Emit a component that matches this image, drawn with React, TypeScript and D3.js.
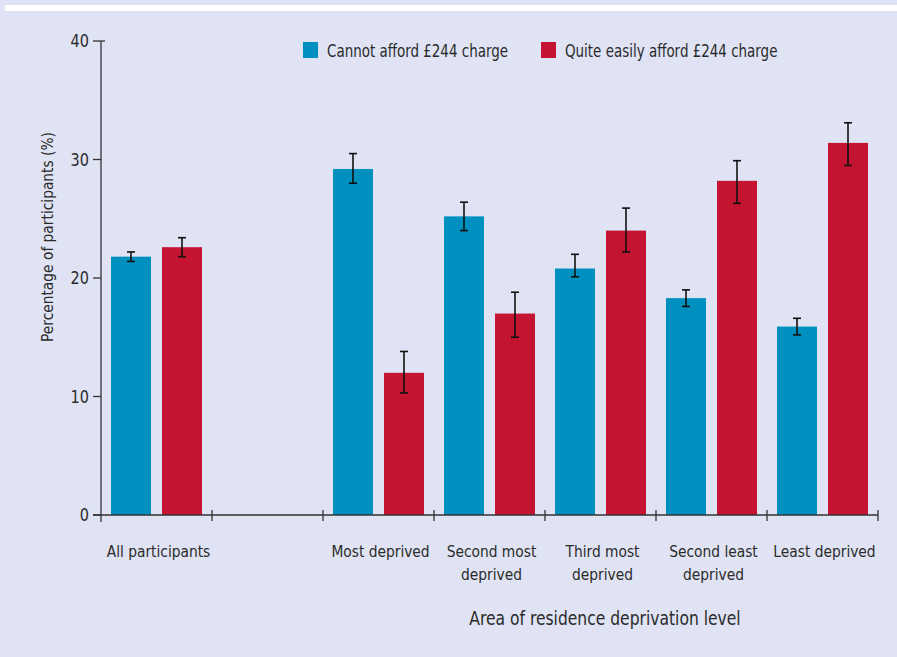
import React from "react";
import * as d3 from "d3";

const categories = ["All participants", "", "Most deprived", "Second most deprived", "Third most deprived", "Second least deprived", "Least deprived"];
const categoryLines: string[][] = [["All participants"], [], ["Most deprived"], ["Second most", "deprived"], ["Third most", "deprived"], ["Second least", "deprived"], ["Least deprived"]];
const seriesNames = ["Cannot afford £244 charge", "Quite easily afford £244 charge"];
const cannotAfford = [21.8, null, 29.2, 25.2, 20.8, 18.3, 15.9];
const cannotLow = [21.4, null, 28.0, 24.0, 20.1, 17.6, 15.2];
const cannotHigh = [22.2, null, 30.5, 26.4, 22.0, 19.0, 16.6];
const easilyAfford = [22.6, null, 12.0, 17.0, 24.0, 28.2, 31.4];
const easilyLow = [21.8, null, 10.3, 15.0, 22.2, 26.3, 29.5];
const easilyHigh = [23.4, null, 13.8, 18.8, 25.9, 29.9, 33.1];
const yTicks = [0, 10, 20, 30, 40];

const W = 897;
const H = 657;
const COLORS = ["#0090bf", "#c41432"];
const TEXT = "#2b2b2b";
const FONT = "'DejaVu Sans Condensed', 'Liberation Sans Narrow', 'Open Sans', sans-serif";

// Narrowed text: the glyphs are squeezed horizontally around the anchor point.
function NText({ x, y, size, anchor = "start", sx = 0.91, rotate = 0, children }: any) {
  return (
    <text
      transform={`translate(${x},${y}) rotate(${rotate}) scale(${sx},1)`}
      textAnchor={anchor}
      fontSize={size}
      fill={TEXT}
    >
      {children}
    </text>
  );
}

export default function App() {
  const x = d3.scaleBand<string>().domain(categories).range([101, 878]).padding(0);
  const inner = d3
    .scaleBand<number>()
    .domain([0, 1])
    .range([0, x.bandwidth()])
    .paddingInner(11 / 51)
    .paddingOuter(10 / 51);
  const y = d3.scaleLinear().domain([0, 40]).range([515, 41]);

  const series = [
    { vals: cannotAfford, lo: cannotLow, hi: cannotHigh },
    { vals: easilyAfford, lo: easilyLow, hi: easilyHigh },
  ];

  const boundaries = categories.map((c) => (x(c) as number) + x.bandwidth());

  return (
    <svg width={W} height={H} style={{ position: "absolute", left: 0, top: 0 }} fontFamily={FONT}>
      <rect x={0} y={0} width={W} height={H} fill="#dfe3f3" />
      <rect x={5} y={5} width={W - 5} height={6} fill="#ffffff" />

      {/* bars */}
      {series.map((s, si) =>
        categories.map((c, ci) => {
          const v = s.vals[ci];
          if (v == null) return null;
          const bx = (x(c) as number) + (inner(si) as number);
          return (
            <rect key={`b${si}-${ci}`} x={bx} y={y(v)} width={inner.bandwidth()} height={y(0) - y(v)} fill={COLORS[si]} />
          );
        })
      )}

      {/* error bars */}
      {series.map((s, si) =>
        categories.map((c, ci) => {
          const lo = s.lo[ci];
          const hi = s.hi[ci];
          if (lo == null || hi == null) return null;
          const cx = (x(c) as number) + (inner(si) as number) + inner.bandwidth() / 2;
          return (
            <g key={`e${si}-${ci}`} stroke="#111" strokeWidth={1.6}>
              <line x1={cx} x2={cx} y1={y(hi)} y2={y(lo)} />
              <line x1={cx - 4} x2={cx + 4} y1={y(hi)} y2={y(hi)} />
              <line x1={cx - 4} x2={cx + 4} y1={y(lo)} y2={y(lo)} />
            </g>
          );
        })
      )}

      {/* y axis */}
      <g stroke="#333" strokeWidth={1.3}>
        <line x1={101} x2={101} y1={y(40)} y2={522} />
        {yTicks.map((t) => (
          <line key={t} x1={93} x2={t === 40 ? 105 : 101} y1={y(t)} y2={y(t)} />
        ))}
      </g>
      {yTicks.map((t) => (
        <NText key={t} x={89} y={y(t) + 6} size={17.5} anchor="end" sx={0.92}>
          {t}
        </NText>
      ))}
      <NText x={53} y={(y(0) + y(40)) / 2 - 41} size={16.5} anchor="middle" rotate={-90} sx={0.93}>
        Percentage of participants (%)
      </NText>

      {/* x axis */}
      <g stroke="#333" strokeWidth={1.3}>
        <line x1={93} x2={878} y1={515} y2={515} />
        {boundaries.map((b, i) => (
          <line key={i} x1={b} x2={b} y1={510} y2={521} />
        ))}
      </g>
      {categories.map((c, ci) =>
        categoryLines[ci].map((ln, li) => (
          <NText
            key={`${ci}-${li}`}
            x={(x(c) as number) + x.bandwidth() / 2 + 2}
            y={557 + li * 23}
            size={16.5}
            anchor="middle"
            sx={0.93}
          >
            {ln}
          </NText>
        ))
      )}
      <NText x={605} y={625} size={19} anchor="middle" sx={0.91}>
        Area of residence deprivation level
      </NText>

      {/* legend */}
      {seriesNames.map((n, i) => {
        const lx = i === 0 ? 303 : 541;
        return (
          <g key={n}>
            <rect x={lx} y={42} width={15} height={16} fill={COLORS[i]} />
            <NText x={lx + 24} y={57} size={17} sx={0.88}>
              {n}
            </NText>
          </g>
        );
      })}
    </svg>
  );
}
